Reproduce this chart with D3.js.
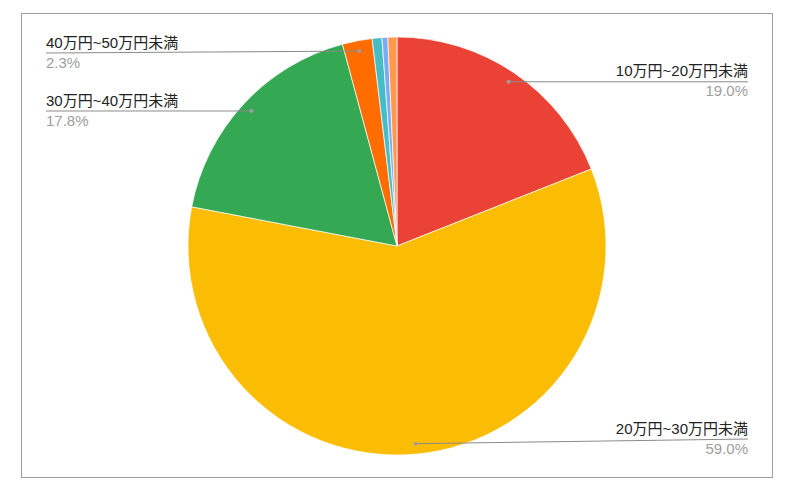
<!DOCTYPE html>
<html>
<head>
<meta charset="utf-8">
<script src="https://cdn.jsdelivr.net/npm/d3@7"></script>
<style>
  body { margin: 0; background: #fff; }
  text { font-family: "Liberation Sans", Arial, "Noto Sans CJK JP", sans-serif; }
</style>
</head>
<body>
<div id="chart"></div>
<script>
// data, clockwise from 12 o'clock
var categories = ["10万円~20万円未満", "20万円~30万円未満", "30万円~40万円未満", "40万円~50万円未満", "50万円~60万円未満", "60万円~70万円未満", "70万円以上"];
var shares = [19.0, 59.0, 17.8, 2.3, 0.75, 0.45, 0.7];
var colors = ["#ea4335", "#fbbc04", "#34a853", "#ff6d01", "#46bdc6", "#7baaf7", "#ff994d"];
var labelled = [true, true, true, true, false, false, false];

var width = 797, height = 493;
var cx = 397, cy = 246, radius = 209;

var data = categories.map(function(c, i) {
  return {name: c, value: shares[i], color: colors[i], show: labelled[i]};
});

var svg = d3.select("div#chart")
  .append("svg")
  .attr("width", width)
  .attr("height", height);

// frame
svg.append("rect")
  .attr("x", 21.5).attr("y", 13.5)
  .attr("width", 751).attr("height", 464)
  .attr("fill", "#fff")
  .attr("stroke", "#9e9e9e");

var pie = d3.pie().sort(null).value(d => d.value);
var arc = d3.arc().innerRadius(0).outerRadius(radius);
var anchorArc = d3.arc().innerRadius(radius * 0.95).outerRadius(radius * 0.95);

var g = svg.append("g")
  .attr("transform", "translate(" + cx + "," + cy + ")");

var arcs = pie(data);

g.selectAll(".slice")
  .data(arcs)
  .enter()
  .append("path")
  .attr("class", "slice")
  .attr("d", arc)
  .attr("fill", d => d.data.color)
  .attr("stroke", "#fff")
  .attr("stroke-width", 0.7);

var leftX = 46 - cx, rightX = 748 - cx;

var lab = svg.append("g")
  .attr("transform", "translate(" + cx + "," + cy + ")");

arcs.filter(d => d.data.show).forEach(function(d) {
  var p = anchorArc.centroid(d);
  var mid = (d.startAngle + d.endAngle) / 2;
  var right = mid < Math.PI;
  // keep labels inside the frame
  var ly = Math.max(Math.min(p[1], 439 - cy), 53 - cy);
  var ex = right ? rightX : leftX;

  lab.append("path")
    .attr("d", "M" + p[0] + "," + p[1] + "L" + ex + "," + ly)
    .attr("fill", "none")
    .attr("stroke", "#8a8a8a")
    .attr("stroke-width", 1);

  lab.append("circle")
    .attr("cx", p[0]).attr("cy", p[1])
    .attr("r", 2)
    .attr("fill", "#9e9e9e");

  lab.append("text")
    .attr("x", ex).attr("y", ly - 5.5)
    .attr("text-anchor", right ? "end" : "start")
    .attr("font-size", 15)
    .attr("fill", "#222")
    .text(d.data.name);

  lab.append("text")
    .attr("x", ex).attr("y", ly + 14.5)
    .attr("text-anchor", right ? "end" : "start")
    .attr("font-size", 15)
    .attr("fill", "#9e9e9e")
    .text(d3.format(".1f")(d.data.value) + "%");
});
</script>
</body>
</html>
